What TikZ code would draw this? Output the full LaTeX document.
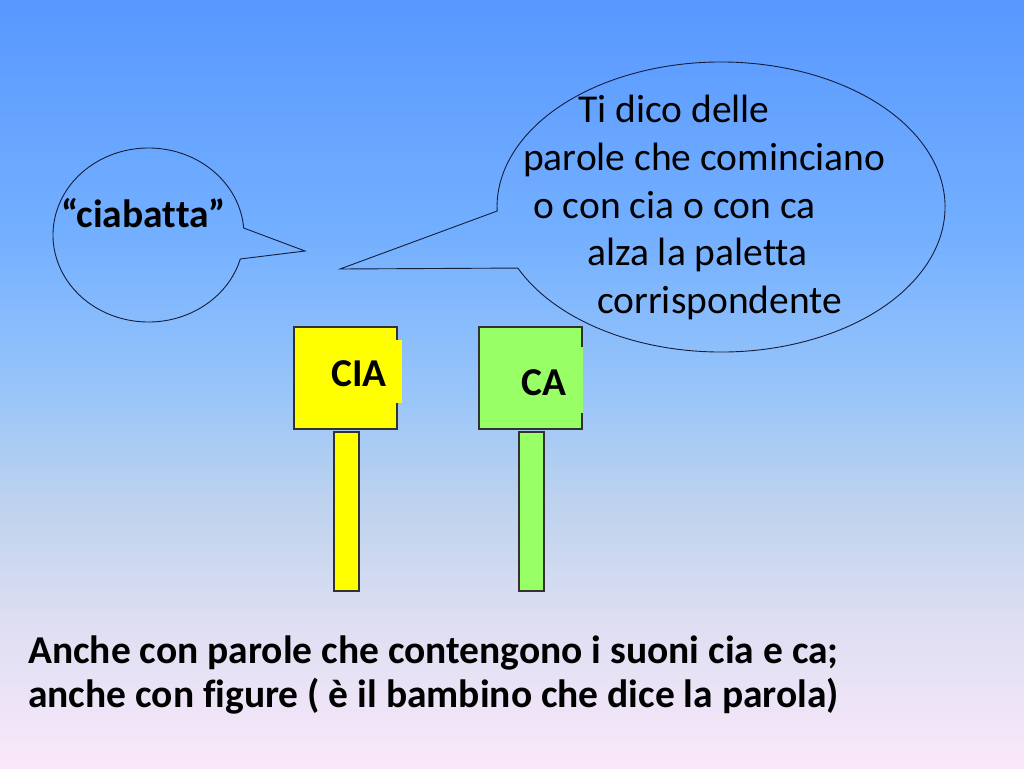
\documentclass[tikz,border=0pt]{standalone}
\usepackage{fontspec}
\setmainfont{Carlito}[Ligatures=NoCommon]
\definecolor{bg0}{RGB}{250,232,250}
\definecolor{bg1}{RGB}{220,222,242}
\definecolor{bg2}{RGB}{188,210,238}
\definecolor{bg3}{RGB}{150,196,250}
\definecolor{bg4}{RGB}{115,175,255}
\definecolor{bg5}{RGB}{88,152,255}
\pgfdeclareverticalshading{bgshade}{100bp}{color(0bp)=(bg0); color(25bp)=(bg0); color(35bp)=(bg1); color(42.5bp)=(bg2); color(50bp)=(bg3); color(60bp)=(bg4); color(75bp)=(bg5); color(100bp)=(bg5)}
\definecolor{bubline}{RGB}{20,30,60}
\definecolor{padyellow}{RGB}{255,255,0}
\definecolor{padgreen}{RGB}{153,255,102}
\definecolor{padline}{RGB}{50,50,50}
\begin{document}
\begin{tikzpicture}[x=1pt,y=-1pt,
  bubble/.style={draw=bubline,line width=0.9pt},
  padbox/.style={draw=padline,line width=1.2pt},
  txt/.style={inner sep=0pt,anchor=base west,font=\fontsize{39.5}{47}\selectfont},
  btxt/.style={txt,font=\fontsize{39.5}{47}\selectfont\bfseries}]
\useasboundingbox (0,0) rectangle (1024,768);
\shade[shading=bgshade] (0,0) rectangle (1024,768);
% left bubble
\coordinate (ltip) at (305,251);
\coordinate (lc) at (148.5,235);
\draw[bubble] (ltip) -- ([shift={(16:95.5 and 87)}]lc) arc[start angle=16,end angle=355.4,x radius=95.5,y radius=87] -- cycle;
\node[btxt] (ciab) at (61,227) {“ciabatta”};
% right bubble
\coordinate (rtip) at (340,269);
\coordinate (rc) at (721,207);
\draw[bubble] (rtip) -- ([shift={(155.1:224 and 145)}]rc) arc[start angle=155.1,end angle=-181.6,x radius=224,y radius=145] -- cycle;
\node[txt] (l1) at (578,122) {Ti dico delle};
\node[txt] (l2) at (523,170) {parole che cominciano};
\node[txt] (l3) at (533,218) {o con cia o con ca};
\node[txt] (l4) at (587,265) {alza la paletta};
\node[txt] (l5) at (597,313) {corrispondente};
% yellow paddle
\draw[padbox,fill=padyellow] (294,327) rectangle (397,429);
\fill[padyellow] (312,340) rectangle (402,403);
\draw[padbox,fill=padyellow] (334,432) rectangle (359,591);
\node[btxt] (cia) at (331,386) {CIA};
% green paddle
\draw[padbox,fill=padgreen] (479,327) rectangle (582,429);
\fill[padgreen] (500,347) rectangle (582.6,413);
\draw[padbox,fill=padgreen] (519,432) rectangle (544,591);
\node[btxt] (ca) at (521,395) {CA};
% bottom text
\node[btxt] (b1) at (28,663) {Anche con parole che contengono i suoni cia e ca;};
\node[btxt] (b2) at (28,707) {anche con figure ( è il bambino che dice la parola)};
\end{tikzpicture}
\end{document}
